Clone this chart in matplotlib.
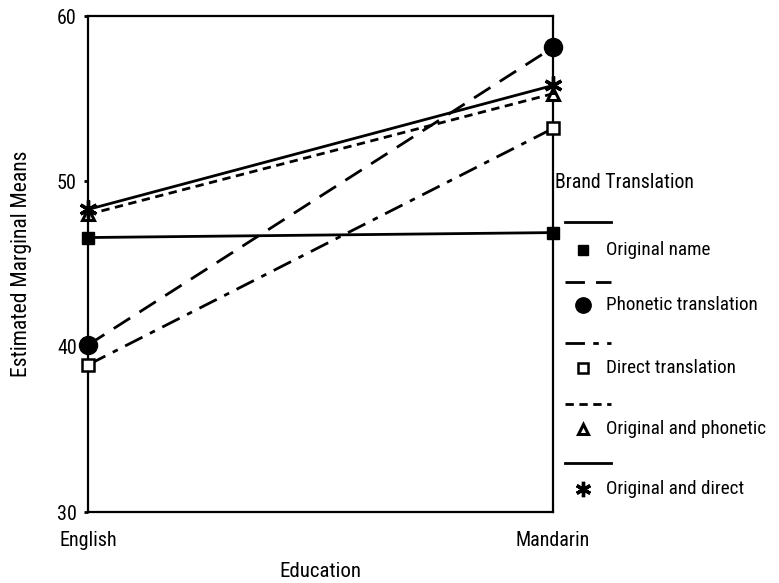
import matplotlib
matplotlib.use("Agg")
import matplotlib.pyplot as plt
from matplotlib.lines import Line2D

# condensed sans, close to the Helvetica Narrow of the original
plt.rcParams['font.family'] = ['Roboto Condensed', 'Archivo Narrow', 'DejaVu Sans']
plt.rcParams['font.size'] = 14

education = ['English', 'Mandarin']
original_name = [46.6, 46.9]
phonetic = [40.1, 58.1]
direct = [38.9, 53.2]
orig_phonetic = [48.0, 55.3]
orig_direct = [48.3, 55.8]

series = [
    ('Original name', original_name, '-', dict(marker='s', ms=8, mfc='black')),
    ('Phonetic translation', phonetic, (0, (7, 4)), dict(marker='o', ms=13, mfc='black')),
    ('Direct translation', direct, (0, (7, 3, 2, 3)), dict(marker='s', ms=8, mfc='white', mew=1.8)),
    ('Original and phonetic', orig_phonetic, (0, (3, 2)), dict(marker='^', ms=9, mfc='white', mew=2.2)),
    ('Original and direct', orig_direct, '-', dict(marker=(6, 2, 0), ms=13, mew=2.4)),
]

W, H = 779, 583
fig = plt.figure(figsize=(W / 100, H / 100), dpi=100)
ax = fig.add_axes([88 / W, 1 - 512 / H, (553 - 88) / W, (512 - 16) / H])

x = list(range(len(education)))
for name, vals, ls, mk in series:
    ax.plot(x, vals, color='black', lw=2, linestyle=ls, mec='black',
            clip_on=False, zorder=3, **mk)

ax.set_xlim(0, 1)
ax.set_ylim(30, 60)
ax.set_xticks(x)
ax.set_xticklabels(education, fontsize=14.5)
ax.set_yticks([30, 40, 50, 60])
ax.tick_params(axis='y', labelsize=14.5)
ax.tick_params(axis='both', length=3, width=2, direction='out', pad=5)
ax.tick_params(axis='x', length=0, pad=14)
for s in ax.spines.values():
    s.set_linewidth(1.6)
ax.set_xlabel('Education', labelpad=8, fontsize=15)
ax.set_ylabel('Estimated Marginal Means', labelpad=18, fontsize=15.5)


def px(u, v):
    return u / W, 1 - v / H


# legend drawn by hand, line sample above marker
fig.text(*px(555, 182), 'Brand Translation', va='center', ha='left', fontsize=14.3)
line_y = [222, 282, 343, 404, 463]
mark_y = [250, 305, 368, 429, 489]
for (name, vals, ls, mk), ly, my in zip(series, line_y, mark_y):
    (lx0, lyf), (lx1, _) = px(565, ly), px(611, ly)
    fig.add_artist(Line2D([lx0, lx1], [lyf, lyf], color='black', lw=2,
                          linestyle=ls, transform=fig.transFigure))
    m = dict(mk)
    m['ms'] = m['ms'] * 0.85
    mx, myf = px(583, my)
    fig.add_artist(Line2D([mx], [myf], color='black', linestyle='none', mec='black',
                          transform=fig.transFigure, **m))
    fig.text(*px(606, my), name, va='center', ha='left', fontsize=13.8)

fig.savefig('out.png', dpi=100)
